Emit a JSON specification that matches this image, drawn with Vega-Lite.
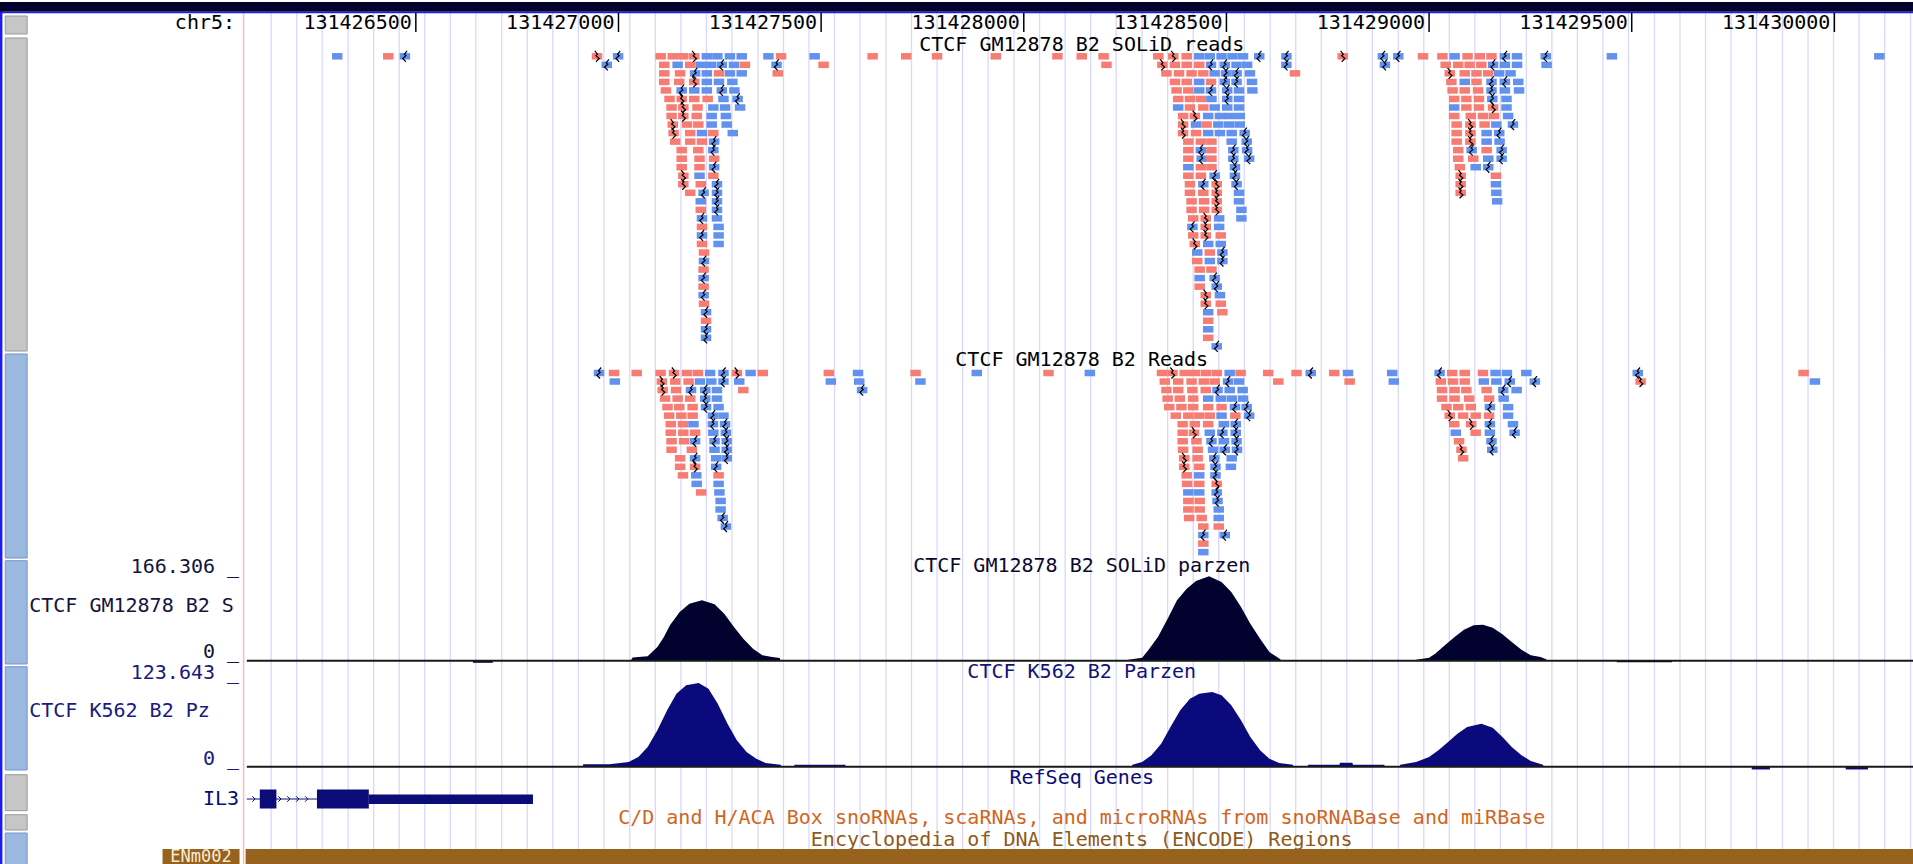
{
"$schema":"https://vega.github.io/schema/vega-lite/v6.json",
"padding":0,"spacing":0,"bounds":"flush","background":"white",
"config":{"view":{"stroke":null},"concat":{"spacing":0},"text":{"font":"DejaVu Sans Mono","fontSize":20}},
"datasets":{
"grid":[{"bp":131426143},{"bp":131426206},{"bp":131426269},{"bp":131426333},{"bp":131426396},{"bp":131426459},{"bp":131426522},{"bp":131426585},{"bp":131426648},{"bp":131426712},{"bp":131426775},{"bp":131426838},{"bp":131426901},{"bp":131426964},{"bp":131427028},{"bp":131427091},{"bp":131427154},{"bp":131427217},{"bp":131427280},{"bp":131427344},{"bp":131427407},{"bp":131427470},{"bp":131427533},{"bp":131427596},{"bp":131427660},{"bp":131427723},{"bp":131427786},{"bp":131427849},{"bp":131427912},{"bp":131427976},{"bp":131428039},{"bp":131428102},{"bp":131428165},{"bp":131428228},{"bp":131428292},{"bp":131428355},{"bp":131428418},{"bp":131428481},{"bp":131428544},{"bp":131428608},{"bp":131428671},{"bp":131428734},{"bp":131428797},{"bp":131428860},{"bp":131428924},{"bp":131428987},{"bp":131429050},{"bp":131429113},{"bp":131429176},{"bp":131429240},{"bp":131429303},{"bp":131429366},{"bp":131429429},{"bp":131429492},{"bp":131429556},{"bp":131429619},{"bp":131429682},{"bp":131429745},{"bp":131429808},{"bp":131429872},{"bp":131429935},{"bp":131429998},{"bp":131430061},{"bp":131430124},{"bp":131430188}],
"ticks":[{"bp":131426500},{"bp":131427000},{"bp":131427500},{"bp":131428000},{"bp":131428500},{"bp":131429000},{"bp":131429500},{"bp":131430000}],
"solid":[
{"bp":131426306,"row":0,"str":"-"},{"bp":131426432,"row":0,"str":"+"},{"bp":131426473,"row":0,"str":"-","zig":1},{"bp":131426947,"row":0,"str":"+","zig":1},{"bp":131426971,"row":1,"str":"-","zig":1},{"bp":131426999,"row":0,"str":"-","zig":1},
{"bp":131427104,"row":0,"str":"+"},{"bp":131427134,"row":0,"str":"+"},{"bp":131427160,"row":0,"str":"+"},{"bp":131427187,"row":0,"str":"+","zig":1},{"bp":131427218,"row":0,"str":"-"},{"bp":131427244,"row":0,"str":"-"},{"bp":131427275,"row":0,"str":"-"},{"bp":131427304,"row":0,"str":"-"},
{"bp":131427113,"row":1,"str":"+"},{"bp":131427146,"row":1,"str":"-"},{"bp":131427177,"row":1,"str":"+"},{"bp":131427203,"row":1,"str":"-"},{"bp":131427228,"row":1,"str":"-"},{"bp":131427255,"row":1,"str":"-","zig":1},{"bp":131427285,"row":1,"str":"-"},{"bp":131427312,"row":1,"str":"+"},
{"bp":131427113,"row":2,"str":"+"},{"bp":131427152,"row":2,"str":"+"},{"bp":131427189,"row":2,"str":"-","zig":1},{"bp":131427218,"row":2,"str":"-"},{"bp":131427248,"row":2,"str":"+"},{"bp":131427275,"row":2,"str":"-"},{"bp":131427304,"row":2,"str":"-"},
{"bp":131427113,"row":3,"str":"+"},{"bp":131427150,"row":3,"str":"+"},{"bp":131427187,"row":3,"str":"+","zig":1},{"bp":131427218,"row":3,"str":"-"},{"bp":131427248,"row":3,"str":"-"},{"bp":131427281,"row":3,"str":"-"},
{"bp":131427117,"row":4,"str":"+"},{"bp":131427156,"row":4,"str":"-","zig":1},{"bp":131427187,"row":4,"str":"-"},{"bp":131427218,"row":4,"str":"-"},{"bp":131427255,"row":4,"str":"-","zig":1},{"bp":131427286,"row":4,"str":"-"},
{"bp":131427126,"row":5,"str":"+"},{"bp":131427156,"row":5,"str":"+","zig":1},{"bp":131427187,"row":5,"str":"+"},{"bp":131427220,"row":5,"str":"+"},{"bp":131427259,"row":5,"str":"-"},{"bp":131427294,"row":5,"str":"-","zig":1},
{"bp":131427131,"row":6,"str":"+"},{"bp":131427160,"row":6,"str":"+","zig":1},{"bp":131427195,"row":6,"str":"+"},{"bp":131427234,"row":6,"str":"-"},{"bp":131427263,"row":6,"str":"-"},{"bp":131427300,"row":6,"str":"-"},
{"bp":131427131,"row":7,"str":"+"},{"bp":131427160,"row":7,"str":"+","zig":1},{"bp":131427193,"row":7,"str":"+"},{"bp":131427230,"row":7,"str":"-"},{"bp":131427265,"row":7,"str":"-"},
{"bp":131427134,"row":8,"str":"+","zig":1},{"bp":131427169,"row":8,"str":"+"},{"bp":131427197,"row":8,"str":"+"},{"bp":131427230,"row":8,"str":"-"},{"bp":131427267,"row":8,"str":"-"},
{"bp":131427136,"row":9,"str":"+","zig":1},{"bp":131427177,"row":9,"str":"+"},{"bp":131427206,"row":9,"str":"-"},{"bp":131427234,"row":9,"str":"+"},{"bp":131427282,"row":9,"str":"-"},
{"bp":131427140,"row":10,"str":"+"},{"bp":131427177,"row":10,"str":"+"},{"bp":131427206,"row":10,"str":"+"},{"bp":131427236,"row":10,"str":"-","zig":1},
{"bp":131427156,"row":11,"str":"+"},{"bp":131427197,"row":11,"str":"+"},{"bp":131427234,"row":11,"str":"-","zig":1},
{"bp":131427156,"row":12,"str":"+"},{"bp":131427200,"row":12,"str":"+"},{"bp":131427236,"row":12,"str":"+"},
{"bp":131427156,"row":13,"str":"+"},{"bp":131427200,"row":13,"str":"+"},{"bp":131427236,"row":13,"str":"-","zig":1},
{"bp":131427160,"row":14,"str":"+","zig":1},{"bp":131427200,"row":14,"str":"-"},{"bp":131427234,"row":14,"str":"+"},
{"bp":131427160,"row":15,"str":"+","zig":1},{"bp":131427203,"row":15,"str":"+"},{"bp":131427243,"row":15,"str":"-","zig":1},
{"bp":131427177,"row":16,"str":"+"},{"bp":131427210,"row":16,"str":"-","zig":1},{"bp":131427243,"row":16,"str":"-","zig":1},
{"bp":131427203,"row":17,"str":"-"},{"bp":131427243,"row":17,"str":"-","zig":1},
{"bp":131427203,"row":18,"str":"+"},{"bp":131427243,"row":18,"str":"-","zig":1},
{"bp":131427206,"row":19,"str":"-","zig":1},{"bp":131427243,"row":19,"str":"-"},
{"bp":131427206,"row":20,"str":"+"},{"bp":131427247,"row":20,"str":"-"},
{"bp":131427206,"row":21,"str":"-","zig":1},{"bp":131427247,"row":21,"str":"-"},
{"bp":131427206,"row":22,"str":"+"},{"bp":131427247,"row":22,"str":"-"},
{"bp":131427211,"row":23,"str":"+"},{"bp":131427211,"row":24,"str":"-","zig":1},{"bp":131427210,"row":25,"str":"+"},{"bp":131427210,"row":26,"str":"-","zig":1},{"bp":131427210,"row":27,"str":"+"},{"bp":131427210,"row":28,"str":"-","zig":1},{"bp":131427211,"row":29,"str":"+"},{"bp":131427216,"row":30,"str":"-","zig":1},{"bp":131427216,"row":31,"str":"+"},{"bp":131427216,"row":32,"str":"-","zig":1},{"bp":131427216,"row":33,"str":"-","zig":1},
{"bp":131427370,"row":0,"str":"-"},{"bp":131427390,"row":1,"str":"-","zig":1},{"bp":131427393,"row":2,"str":"+"},{"bp":131427401,"row":0,"str":"+"},{"bp":131427484,"row":0,"str":"-"},{"bp":131427506,"row":1,"str":"+"},{"bp":131427627,"row":0,"str":"+"},{"bp":131427710,"row":0,"str":"+"},{"bp":131427786,"row":0,"str":"+"},{"bp":131427931,"row":0,"str":"+"},{"bp":131428083,"row":0,"str":"+"},{"bp":131428143,"row":0,"str":"+"},{"bp":131428197,"row":0,"str":"+"},{"bp":131428204,"row":1,"str":"+"},
{"bp":131428332,"row":0,"str":"+"},{"bp":131428369,"row":0,"str":"+","zig":1},{"bp":131428402,"row":0,"str":"+"},{"bp":131428433,"row":0,"str":"-"},{"bp":131428459,"row":0,"str":"-"},{"bp":131428488,"row":0,"str":"-"},{"bp":131428515,"row":0,"str":"-"},{"bp":131428541,"row":0,"str":"-"},{"bp":131428581,"row":0,"str":"-","zig":1},
{"bp":131428342,"row":1,"str":"+","zig":1},{"bp":131428373,"row":1,"str":"+"},{"bp":131428402,"row":1,"str":"+"},{"bp":131428433,"row":1,"str":"+"},{"bp":131428462,"row":1,"str":"-","zig":1},{"bp":131428496,"row":1,"str":"-","zig":1},{"bp":131428525,"row":1,"str":"-"},{"bp":131428551,"row":1,"str":"-"},
{"bp":131428352,"row":2,"str":"+"},{"bp":131428383,"row":2,"str":"+"},{"bp":131428414,"row":2,"str":"+"},{"bp":131428443,"row":2,"str":"+"},{"bp":131428471,"row":2,"str":"-"},{"bp":131428499,"row":2,"str":"-","zig":1},{"bp":131428525,"row":2,"str":"-","zig":1},{"bp":131428558,"row":2,"str":"-"},
{"bp":131428373,"row":3,"str":"+"},{"bp":131428402,"row":3,"str":"+"},{"bp":131428433,"row":3,"str":"-"},{"bp":131428462,"row":3,"str":"+"},{"bp":131428496,"row":3,"str":"-","zig":1},{"bp":131428525,"row":3,"str":"-","zig":1},{"bp":131428563,"row":3,"str":"-"},
{"bp":131428377,"row":4,"str":"+"},{"bp":131428406,"row":4,"str":"+"},{"bp":131428433,"row":4,"str":"-"},{"bp":131428462,"row":4,"str":"-","zig":1},{"bp":131428502,"row":4,"str":"-","zig":1},{"bp":131428531,"row":4,"str":"-"},{"bp":131428564,"row":4,"str":"-"},
{"bp":131428381,"row":5,"str":"+"},{"bp":131428410,"row":5,"str":"+"},{"bp":131428437,"row":5,"str":"+"},{"bp":131428463,"row":5,"str":"-"},{"bp":131428502,"row":5,"str":"-","zig":1},{"bp":131428531,"row":5,"str":"-"},
{"bp":131428381,"row":6,"str":"-"},{"bp":131428410,"row":6,"str":"+"},{"bp":131428443,"row":6,"str":"+"},{"bp":131428471,"row":6,"str":"-"},{"bp":131428502,"row":6,"str":"-"},{"bp":131428531,"row":6,"str":"-"},
{"bp":131428393,"row":7,"str":"+"},{"bp":131428422,"row":7,"str":"+","zig":1},{"bp":131428455,"row":7,"str":"-"},{"bp":131428484,"row":7,"str":"-"},{"bp":131428508,"row":7,"str":"-"},{"bp":131428533,"row":7,"str":"-"},
{"bp":131428393,"row":8,"str":"+","zig":1},{"bp":131428425,"row":8,"str":"-"},{"bp":131428451,"row":8,"str":"+"},{"bp":131428480,"row":8,"str":"-"},{"bp":131428507,"row":8,"str":"-"},{"bp":131428533,"row":8,"str":"-"},
{"bp":131428393,"row":9,"str":"+","zig":1},{"bp":131428425,"row":9,"str":"+"},{"bp":131428455,"row":9,"str":"-"},{"bp":131428484,"row":9,"str":"-"},{"bp":131428513,"row":9,"str":"-"},{"bp":131428545,"row":9,"str":"-","zig":1},
{"bp":131428406,"row":10,"str":"+"},{"bp":131428437,"row":10,"str":"+"},{"bp":131428463,"row":10,"str":"+"},{"bp":131428513,"row":10,"str":"-"},{"bp":131428550,"row":10,"str":"-","zig":1},
{"bp":131428406,"row":11,"str":"+"},{"bp":131428437,"row":11,"str":"-","zig":1},{"bp":131428463,"row":11,"str":"+"},{"bp":131428517,"row":11,"str":"-","zig":1},{"bp":131428551,"row":11,"str":"-","zig":1},
{"bp":131428406,"row":12,"str":"+"},{"bp":131428439,"row":12,"str":"-","zig":1},{"bp":131428463,"row":12,"str":"+"},{"bp":131428517,"row":12,"str":"-","zig":1},{"bp":131428556,"row":12,"str":"-","zig":1},
{"bp":131428406,"row":13,"str":"-"},{"bp":131428437,"row":13,"str":"+"},{"bp":131428463,"row":13,"str":"+"},{"bp":131428521,"row":13,"str":"-","zig":1},
{"bp":131428406,"row":14,"str":"+"},{"bp":131428437,"row":14,"str":"+"},{"bp":131428471,"row":14,"str":"-","zig":1},{"bp":131428521,"row":14,"str":"-","zig":1},
{"bp":131428410,"row":15,"str":"+"},{"bp":131428443,"row":15,"str":"-","zig":1},{"bp":131428476,"row":15,"str":"+","zig":1},{"bp":131428525,"row":15,"str":"-","zig":1},
{"bp":131428410,"row":16,"str":"+"},{"bp":131428443,"row":16,"str":"+"},{"bp":131428476,"row":16,"str":"+","zig":1},{"bp":131428531,"row":16,"str":"-"},
{"bp":131428414,"row":17,"str":"+"},{"bp":131428445,"row":17,"str":"+"},{"bp":131428476,"row":17,"str":"+","zig":1},{"bp":131428531,"row":17,"str":"-"},
{"bp":131428414,"row":18,"str":"+"},{"bp":131428445,"row":18,"str":"+"},{"bp":131428476,"row":18,"str":"+","zig":1},{"bp":131428537,"row":18,"str":"-"},
{"bp":131428418,"row":19,"str":"+"},{"bp":131428449,"row":19,"str":"+","zig":1},{"bp":131428482,"row":19,"str":"-"},{"bp":131428537,"row":19,"str":"-"},
{"bp":131428416,"row":20,"str":"-","zig":1},{"bp":131428449,"row":20,"str":"+","zig":1},{"bp":131428482,"row":20,"str":"-"},
{"bp":131428418,"row":21,"str":"+"},{"bp":131428449,"row":21,"str":"+","zig":1},{"bp":131428486,"row":21,"str":"+"},
{"bp":131428422,"row":22,"str":"+","zig":1},{"bp":131428455,"row":22,"str":"-"},{"bp":131428486,"row":22,"str":"-"},
{"bp":131428428,"row":23,"str":"-"},{"bp":131428459,"row":23,"str":"+"},{"bp":131428490,"row":23,"str":"-","zig":1},
{"bp":131428428,"row":24,"str":"+"},{"bp":131428459,"row":24,"str":"-"},{"bp":131428490,"row":24,"str":"-","zig":1},
{"bp":131428434,"row":25,"str":"+"},{"bp":131428463,"row":25,"str":"+"},
{"bp":131428434,"row":26,"str":"-"},{"bp":131428471,"row":26,"str":"-","zig":1},
{"bp":131428434,"row":27,"str":"+"},{"bp":131428476,"row":27,"str":"-","zig":1},
{"bp":131428449,"row":28,"str":"+","zig":1},{"bp":131428484,"row":28,"str":"-"},
{"bp":131428449,"row":29,"str":"+","zig":1},{"bp":131428486,"row":29,"str":"+"},
{"bp":131428455,"row":30,"str":"-"},{"bp":131428490,"row":30,"str":"+"},
{"bp":131428455,"row":31,"str":"+"},{"bp":131428455,"row":32,"str":"-"},{"bp":131428455,"row":33,"str":"+"},{"bp":131428476,"row":34,"str":"-","zig":1},
{"bp":131428648,"row":0,"str":"-","zig":1},{"bp":131428648,"row":1,"str":"-","zig":1},{"bp":131428669,"row":2,"str":"+"},{"bp":131428787,"row":0,"str":"+","zig":1},{"bp":131428886,"row":0,"str":"-","zig":1},{"bp":131428891,"row":1,"str":"-","zig":1},{"bp":131428924,"row":0,"str":"-","zig":1},
{"bp":131428985,"row":0,"str":"+"},{"bp":131429033,"row":0,"str":"+"},{"bp":131429063,"row":0,"str":"-"},{"bp":131429095,"row":0,"str":"+"},{"bp":131429125,"row":0,"str":"+"},{"bp":131429154,"row":0,"str":"+"},{"bp":131429187,"row":0,"str":"-","zig":1},{"bp":131429217,"row":0,"str":"-"},{"bp":131429288,"row":0,"str":"-","zig":1},
{"bp":131429041,"row":1,"str":"+"},{"bp":131429072,"row":1,"str":"+"},{"bp":131429100,"row":1,"str":"+"},{"bp":131429129,"row":1,"str":"+"},{"bp":131429158,"row":1,"str":"-","zig":1},{"bp":131429187,"row":1,"str":"-"},{"bp":131429217,"row":1,"str":"-"},{"bp":131429290,"row":1,"str":"-"},
{"bp":131429051,"row":2,"str":"+","zig":1},{"bp":131429088,"row":2,"str":"+"},{"bp":131429117,"row":2,"str":"+"},{"bp":131429146,"row":2,"str":"+"},{"bp":131429173,"row":2,"str":"-"},{"bp":131429201,"row":2,"str":"-"},
{"bp":131429055,"row":3,"str":"+"},{"bp":131429088,"row":3,"str":"-"},{"bp":131429117,"row":3,"str":"+"},{"bp":131429154,"row":3,"str":"-","zig":1},{"bp":131429187,"row":3,"str":"-","zig":1},{"bp":131429220,"row":3,"str":"-"},
{"bp":131429058,"row":4,"str":"+"},{"bp":131429088,"row":4,"str":"+"},{"bp":131429121,"row":4,"str":"+"},{"bp":131429154,"row":4,"str":"-","zig":1},{"bp":131429187,"row":4,"str":"-"},{"bp":131429222,"row":4,"str":"-"},
{"bp":131429062,"row":5,"str":"+"},{"bp":131429092,"row":5,"str":"+"},{"bp":131429123,"row":5,"str":"+"},{"bp":131429156,"row":5,"str":"-","zig":1},{"bp":131429191,"row":5,"str":"-"},
{"bp":131429062,"row":6,"str":"-"},{"bp":131429092,"row":6,"str":"+"},{"bp":131429123,"row":6,"str":"+"},{"bp":131429158,"row":6,"str":"+","zig":1},{"bp":131429191,"row":6,"str":"-"},
{"bp":131429062,"row":7,"str":"+"},{"bp":131429103,"row":7,"str":"+"},{"bp":131429133,"row":7,"str":"+"},{"bp":131429160,"row":7,"str":"+"},{"bp":131429195,"row":7,"str":"-"},
{"bp":131429068,"row":8,"str":"+"},{"bp":131429102,"row":8,"str":"+","zig":1},{"bp":131429137,"row":8,"str":"+"},{"bp":131429166,"row":8,"str":"-"},{"bp":131429207,"row":8,"str":"-","zig":1},
{"bp":131429068,"row":9,"str":"+"},{"bp":131429102,"row":9,"str":"+","zig":1},{"bp":131429142,"row":9,"str":"-"},{"bp":131429173,"row":9,"str":"-","zig":1},
{"bp":131429068,"row":10,"str":"+"},{"bp":131429102,"row":10,"str":"+","zig":1},{"bp":131429142,"row":10,"str":"-"},{"bp":131429174,"row":10,"str":"-"},
{"bp":131429072,"row":11,"str":"+"},{"bp":131429105,"row":11,"str":"-","zig":1},{"bp":131429142,"row":11,"str":"+"},{"bp":131429179,"row":11,"str":"-","zig":1},
{"bp":131429072,"row":12,"str":"+"},{"bp":131429109,"row":12,"str":"+"},{"bp":131429146,"row":12,"str":"-"},{"bp":131429179,"row":12,"str":"-","zig":1},
{"bp":131429076,"row":13,"str":"+"},{"bp":131429115,"row":13,"str":"-"},{"bp":131429146,"row":13,"str":"-","zig":1},
{"bp":131429078,"row":14,"str":"+","zig":1},{"bp":131429165,"row":14,"str":"+"},
{"bp":131429078,"row":15,"str":"+","zig":1},{"bp":131429165,"row":15,"str":"-"},
{"bp":131429078,"row":16,"str":"+","zig":1},{"bp":131429166,"row":16,"str":"-"},
{"bp":131429168,"row":17,"str":"-"},
{"bp":131429451,"row":0,"str":"-"},{"bp":131430111,"row":0,"str":"-"}
],
"reads":[
{"bp":131426952,"row":0,"str":"-","zig":1},{"bp":131426989,"row":0,"str":"+"},{"bp":131426991,"row":1,"str":"-"},{"bp":131427045,"row":0,"str":"+"},
{"bp":131427104,"row":0,"str":"+"},{"bp":131427137,"row":0,"str":"+","zig":1},{"bp":131427169,"row":0,"str":"+"},{"bp":131427196,"row":0,"str":"+"},{"bp":131427226,"row":0,"str":"-"},{"bp":131427259,"row":0,"str":"-","zig":1},{"bp":131427292,"row":0,"str":"+","zig":1},{"bp":131427326,"row":0,"str":"-"},{"bp":131427356,"row":0,"str":"+"},
{"bp":131427107,"row":1,"str":"+","zig":1},{"bp":131427140,"row":1,"str":"+"},{"bp":131427173,"row":1,"str":"+"},{"bp":131427201,"row":1,"str":"-"},{"bp":131427229,"row":1,"str":"-"},{"bp":131427259,"row":1,"str":"-","zig":1},{"bp":131427298,"row":1,"str":"-"},
{"bp":131427109,"row":2,"str":"+","zig":1},{"bp":131427142,"row":2,"str":"+"},{"bp":131427179,"row":2,"str":"-","zig":1},{"bp":131427214,"row":2,"str":"-","zig":1},{"bp":131427243,"row":2,"str":"-"},{"bp":131427308,"row":2,"str":"+"},
{"bp":131427115,"row":3,"str":"+"},{"bp":131427146,"row":3,"str":"+"},{"bp":131427177,"row":3,"str":"+"},{"bp":131427214,"row":3,"str":"-","zig":1},{"bp":131427243,"row":3,"str":"-"},
{"bp":131427121,"row":4,"str":"+"},{"bp":131427150,"row":4,"str":"+"},{"bp":131427183,"row":4,"str":"+"},{"bp":131427216,"row":4,"str":"-","zig":1},{"bp":131427247,"row":4,"str":"-"},
{"bp":131427125,"row":5,"str":"+"},{"bp":131427155,"row":5,"str":"+"},{"bp":131427183,"row":5,"str":"+"},{"bp":131427233,"row":5,"str":"-","zig":1},{"bp":131427259,"row":5,"str":"-"},
{"bp":131427129,"row":6,"str":"+"},{"bp":131427159,"row":6,"str":"+"},{"bp":131427185,"row":6,"str":"-"},{"bp":131427233,"row":6,"str":"-","zig":1},{"bp":131427263,"row":6,"str":"-","zig":1},
{"bp":131427129,"row":7,"str":"+"},{"bp":131427160,"row":7,"str":"+"},{"bp":131427189,"row":7,"str":"+"},{"bp":131427234,"row":7,"str":"-"},{"bp":131427265,"row":7,"str":"-","zig":1},
{"bp":131427131,"row":8,"str":"+"},{"bp":131427162,"row":8,"str":"+"},{"bp":131427189,"row":8,"str":"-","zig":1},{"bp":131427237,"row":8,"str":"-","zig":1},{"bp":131427267,"row":8,"str":"-","zig":1},
{"bp":131427131,"row":9,"str":"+"},{"bp":131427181,"row":9,"str":"+"},{"bp":131427237,"row":9,"str":"-"},{"bp":131427267,"row":9,"str":"-","zig":1},
{"bp":131427152,"row":10,"str":"+"},{"bp":131427189,"row":10,"str":"-","zig":1},{"bp":131427241,"row":10,"str":"-"},{"bp":131427267,"row":10,"str":"-","zig":1},
{"bp":131427152,"row":11,"str":"+"},{"bp":131427189,"row":11,"str":"+","zig":1},{"bp":131427241,"row":11,"str":"-","zig":1},
{"bp":131427159,"row":12,"str":"+"},{"bp":131427192,"row":12,"str":"-"},{"bp":131427247,"row":12,"str":"+"},
{"bp":131427193,"row":13,"str":"-"},{"bp":131427247,"row":13,"str":"-"},
{"bp":131427204,"row":14,"str":"+"},{"bp":131427249,"row":14,"str":"-"},
{"bp":131427252,"row":15,"str":"-"},{"bp":131427252,"row":16,"str":"-"},{"bp":131427257,"row":17,"str":"-","zig":1},{"bp":131427265,"row":18,"str":"-","zig":1},
{"bp":131427519,"row":0,"str":"+"},{"bp":131427524,"row":1,"str":"-"},{"bp":131427591,"row":0,"str":"-"},{"bp":131427594,"row":1,"str":"-"},{"bp":131427601,"row":2,"str":"-","zig":1},{"bp":131427733,"row":0,"str":"+"},{"bp":131427745,"row":1,"str":"-"},{"bp":131427884,"row":0,"str":"-"},{"bp":131428061,"row":0,"str":"+"},{"bp":131428163,"row":0,"str":"-"},
{"bp":131428341,"row":0,"str":"+"},{"bp":131428367,"row":0,"str":"+","zig":1},{"bp":131428397,"row":0,"str":"+"},{"bp":131428422,"row":0,"str":"+"},{"bp":131428449,"row":0,"str":"+"},{"bp":131428476,"row":0,"str":"+"},{"bp":131428508,"row":0,"str":"-"},{"bp":131428535,"row":0,"str":"+"},{"bp":131428603,"row":0,"str":"+"},{"bp":131428673,"row":0,"str":"+"},{"bp":131428708,"row":0,"str":"-","zig":1},{"bp":131428766,"row":0,"str":"+"},{"bp":131428800,"row":0,"str":"-"},{"bp":131428909,"row":0,"str":"-"},
{"bp":131429026,"row":0,"str":"-","zig":1},{"bp":131429057,"row":0,"str":"+"},{"bp":131429088,"row":0,"str":"+"},{"bp":131429133,"row":0,"str":"+"},{"bp":131429164,"row":0,"str":"-"},{"bp":131429192,"row":0,"str":"-"},{"bp":131429240,"row":0,"str":"-"},
{"bp":131428348,"row":1,"str":"+"},{"bp":131428381,"row":1,"str":"+"},{"bp":131428414,"row":1,"str":"+"},{"bp":131428444,"row":1,"str":"+"},{"bp":131428471,"row":1,"str":"+"},{"bp":131428504,"row":1,"str":"-","zig":1},{"bp":131428531,"row":1,"str":"-"},{"bp":131428628,"row":1,"str":"+"},{"bp":131428804,"row":1,"str":"+"},{"bp":131428913,"row":1,"str":"-"},
{"bp":131429029,"row":1,"str":"+"},{"bp":131429059,"row":1,"str":"+"},{"bp":131429088,"row":1,"str":"+"},{"bp":131429135,"row":1,"str":"-"},{"bp":131429166,"row":1,"str":"-"},{"bp":131429199,"row":1,"str":"-","zig":1},{"bp":131429261,"row":1,"str":"-","zig":1},
{"bp":131428352,"row":2,"str":"+"},{"bp":131428381,"row":2,"str":"+"},{"bp":131428416,"row":2,"str":"+"},{"bp":131428449,"row":2,"str":"+"},{"bp":131428478,"row":2,"str":"-","zig":1},{"bp":131428508,"row":2,"str":"-"},{"bp":131428540,"row":2,"str":"-"},
{"bp":131429032,"row":2,"str":"+"},{"bp":131429063,"row":2,"str":"+"},{"bp":131429092,"row":2,"str":"+"},{"bp":131429142,"row":2,"str":"+"},{"bp":131429183,"row":2,"str":"-","zig":1},{"bp":131429216,"row":2,"str":"-"},
{"bp":131428355,"row":3,"str":"+"},{"bp":131428385,"row":3,"str":"+"},{"bp":131428418,"row":3,"str":"+"},{"bp":131428455,"row":3,"str":"-"},{"bp":131428486,"row":3,"str":"-"},{"bp":131428513,"row":3,"str":"-"},{"bp":131428541,"row":3,"str":"-"},
{"bp":131429032,"row":3,"str":"+"},{"bp":131429063,"row":3,"str":"+"},{"bp":131429099,"row":3,"str":"+"},{"bp":131429148,"row":3,"str":"+"},{"bp":131429184,"row":3,"str":"-"},
{"bp":131428359,"row":4,"str":"+"},{"bp":131428389,"row":4,"str":"+"},{"bp":131428418,"row":4,"str":"+"},{"bp":131428455,"row":4,"str":"+"},{"bp":131428488,"row":4,"str":"+"},{"bp":131428521,"row":4,"str":"-","zig":1},{"bp":131428550,"row":4,"str":"-","zig":1},
{"bp":131429043,"row":4,"str":"+"},{"bp":131429072,"row":4,"str":"+"},{"bp":131429103,"row":4,"str":"+"},{"bp":131429150,"row":4,"str":"-","zig":1},{"bp":131429195,"row":4,"str":"-"},
{"bp":131428375,"row":5,"str":"+"},{"bp":131428406,"row":5,"str":"+"},{"bp":131428433,"row":5,"str":"+"},{"bp":131428459,"row":5,"str":"+"},{"bp":131428488,"row":5,"str":"-"},{"bp":131428522,"row":5,"str":"+"},{"bp":131428556,"row":5,"str":"-","zig":1},
{"bp":131429051,"row":5,"str":"+","zig":1},{"bp":131429084,"row":5,"str":"+"},{"bp":131429115,"row":5,"str":"+"},{"bp":131429148,"row":5,"str":"+"},{"bp":131429195,"row":5,"str":"-"},
{"bp":131428392,"row":6,"str":"+"},{"bp":131428422,"row":6,"str":"+"},{"bp":131428455,"row":6,"str":"+"},{"bp":131428494,"row":6,"str":"-"},{"bp":131428523,"row":6,"str":"-","zig":1},
{"bp":131429062,"row":6,"str":"+"},{"bp":131429104,"row":6,"str":"+","zig":1},{"bp":131429150,"row":6,"str":"-","zig":1},{"bp":131429207,"row":6,"str":"-"},
{"bp":131428392,"row":7,"str":"+"},{"bp":131428420,"row":7,"str":"+","zig":1},{"bp":131428459,"row":7,"str":"-"},{"bp":131428490,"row":7,"str":"-","zig":1},{"bp":131428523,"row":7,"str":"-","zig":1},
{"bp":131429066,"row":7,"str":"-"},{"bp":131429115,"row":7,"str":"+"},{"bp":131429150,"row":7,"str":"-"},{"bp":131429211,"row":7,"str":"-","zig":1},
{"bp":131428392,"row":8,"str":"+"},{"bp":131428426,"row":8,"str":"+"},{"bp":131428463,"row":8,"str":"-","zig":1},{"bp":131428494,"row":8,"str":"-"},{"bp":131428525,"row":8,"str":"-","zig":1},
{"bp":131429074,"row":8,"str":"+"},{"bp":131429154,"row":8,"str":"-","zig":1},
{"bp":131428393,"row":9,"str":"+"},{"bp":131428429,"row":9,"str":"+"},{"bp":131428467,"row":9,"str":"-"},{"bp":131428496,"row":9,"str":"-","zig":1},{"bp":131428526,"row":9,"str":"-","zig":1},
{"bp":131429080,"row":9,"str":"+","zig":1},{"bp":131429156,"row":9,"str":"-","zig":1},
{"bp":131428396,"row":10,"str":"+","zig":1},{"bp":131428429,"row":10,"str":"+"},{"bp":131428470,"row":10,"str":"-","zig":1},{"bp":131428513,"row":10,"str":"-"},{"bp":131429084,"row":10,"str":"+"},
{"bp":131428396,"row":11,"str":"+","zig":1},{"bp":131428433,"row":11,"str":"+"},{"bp":131428473,"row":11,"str":"-","zig":1},{"bp":131428511,"row":11,"str":"-"},
{"bp":131428402,"row":12,"str":"+"},{"bp":131428433,"row":12,"str":"-"},{"bp":131428473,"row":12,"str":"-","zig":1},
{"bp":131428403,"row":13,"str":"+"},{"bp":131428433,"row":13,"str":"+"},{"bp":131428476,"row":13,"str":"+","zig":1},
{"bp":131428406,"row":14,"str":"-"},{"bp":131428433,"row":14,"str":"-"},{"bp":131428476,"row":14,"str":"-","zig":1},
{"bp":131428406,"row":15,"str":"+"},{"bp":131428434,"row":15,"str":"+"},{"bp":131428478,"row":15,"str":"-","zig":1},
{"bp":131428406,"row":16,"str":"+"},{"bp":131428434,"row":16,"str":"+"},{"bp":131428481,"row":16,"str":"-"},
{"bp":131428408,"row":17,"str":"+"},{"bp":131428439,"row":17,"str":"+"},{"bp":131428481,"row":17,"str":"-"},
{"bp":131428443,"row":18,"str":"+"},{"bp":131428481,"row":18,"str":"+"},
{"bp":131428443,"row":19,"str":"-","zig":1},{"bp":131428496,"row":19,"str":"-","zig":1},
{"bp":131428443,"row":20,"str":"+"},{"bp":131428443,"row":21,"str":"-"},
{"bp":131429515,"row":0,"str":"-","zig":1},{"bp":131429522,"row":1,"str":"+","zig":1},{"bp":131429924,"row":0,"str":"+"},{"bp":131429952,"row":1,"str":"-"}
],
"gm":[
{"bp":131427030,"v":0,"pk":1},{"bp":131427035,"v":6,"pk":1},{"bp":131427072,"v":8.5,"pk":1},{"bp":131427096,"v":26.4,"pk":1},{"bp":131427112,"v":45.7,"pk":1},{"bp":131427127,"v":68.3,"pk":1},{"bp":131427151,"v":94,"pk":1},{"bp":131427175,"v":110,"pk":1},{"bp":131427206,"v":116.5,"pk":1},{"bp":131427237,"v":108.8,"pk":1},{"bp":131427261,"v":90.7,"pk":1},{"bp":131427285,"v":65,"pk":1},{"bp":131427308,"v":42.4,"pk":1},{"bp":131427332,"v":23.2,"pk":1},{"bp":131427355,"v":10.4,"pk":1},{"bp":131427379,"v":7.1,"pk":1},{"bp":131427398,"v":5,"pk":1},{"bp":131427400,"v":0,"pk":1},
{"bp":131428255,"v":0,"pk":2},{"bp":131428258,"v":2,"pk":2},{"bp":131428292,"v":5.8,"pk":2},{"bp":131428307,"v":20,"pk":2},{"bp":131428331,"v":45.7,"pk":2},{"bp":131428355,"v":81,"pk":2},{"bp":131428378,"v":116.5,"pk":2},{"bp":131428402,"v":138.9,"pk":2},{"bp":131428425,"v":153.8,"pk":2},{"bp":131428457,"v":163,"pk":2},{"bp":131428488,"v":151.8,"pk":2},{"bp":131428512,"v":132.5,"pk":2},{"bp":131428536,"v":103.6,"pk":2},{"bp":131428559,"v":71.4,"pk":2},{"bp":131428583,"v":42.4,"pk":2},{"bp":131428606,"v":16.8,"pk":2},{"bp":131428622,"v":8.5,"pk":2},{"bp":131428633,"v":3,"pk":2},{"bp":131428635,"v":0,"pk":2},
{"bp":131428966,"v":0,"pk":3},{"bp":131428968,"v":2,"pk":3},{"bp":131429000,"v":5.8,"pk":3},{"bp":131429015,"v":13.5,"pk":3},{"bp":131429039,"v":29.7,"pk":3},{"bp":131429063,"v":45.7,"pk":3},{"bp":131429086,"v":59.8,"pk":3},{"bp":131429110,"v":68.3,"pk":3},{"bp":131429133,"v":69.5,"pk":3},{"bp":131429157,"v":63.7,"pk":3},{"bp":131429181,"v":50.9,"pk":3},{"bp":131429204,"v":36.1,"pk":3},{"bp":131429228,"v":21.2,"pk":3},{"bp":131429251,"v":10.4,"pk":3},{"bp":131429275,"v":7.1,"pk":3},{"bp":131429289,"v":3,"pk":3},{"bp":131429291,"v":0,"pk":3},
{"bp":131426641,"v":-4,"pk":4},{"bp":131426690,"v":-4,"pk":4},
{"bp":131429463,"v":-3,"pk":5},{"bp":131429599,"v":-3,"pk":5}
],
"k562":[
{"bp":131426912,"v":0,"pk":1},{"bp":131426913,"v":3.5,"pk":1},{"bp":131426978,"v":3.5,"pk":1},{"bp":131427025,"v":6.8,"pk":1},{"bp":131427049,"v":14.1,"pk":1},{"bp":131427072,"v":28.6,"pk":1},{"bp":131427096,"v":52.8,"pk":1},{"bp":131427120,"v":81.8,"pk":1},{"bp":131427143,"v":105.9,"pk":1},{"bp":131427167,"v":118.1,"pk":1},{"bp":131427198,"v":121.5,"pk":1},{"bp":131427222,"v":113.2,"pk":1},{"bp":131427245,"v":91.4,"pk":1},{"bp":131427269,"v":62.4,"pk":1},{"bp":131427292,"v":38.3,"pk":1},{"bp":131427316,"v":21.3,"pk":1},{"bp":131427340,"v":11.6,"pk":1},{"bp":131427363,"v":5.4,"pk":1},{"bp":131427400,"v":2.9,"pk":1},{"bp":131427403,"v":0,"pk":1},
{"bp":131427434,"v":2.9,"pk":2},{"bp":131427560,"v":2.9,"pk":2},
{"bp":131428266,"v":0,"pk":3},{"bp":131428268,"v":2.9,"pk":3},{"bp":131428292,"v":6.8,"pk":3},{"bp":131428315,"v":16.5,"pk":3},{"bp":131428339,"v":33.4,"pk":3},{"bp":131428362,"v":57.6,"pk":3},{"bp":131428386,"v":81.8,"pk":3},{"bp":131428410,"v":98.7,"pk":3},{"bp":131428433,"v":105.9,"pk":3},{"bp":131428465,"v":108.4,"pk":3},{"bp":131428488,"v":103.6,"pk":3},{"bp":131428512,"v":89.1,"pk":3},{"bp":131428536,"v":67.3,"pk":3},{"bp":131428559,"v":43.1,"pk":3},{"bp":131428583,"v":23.8,"pk":3},{"bp":131428606,"v":11.6,"pk":3},{"bp":131428630,"v":5.4,"pk":3},{"bp":131428664,"v":2.9,"pk":3},{"bp":131428666,"v":0,"pk":3},
{"bp":131428701,"v":2.9,"pk":4},{"bp":131428779,"v":2.9,"pk":4},{"bp":131428780,"v":5.8,"pk":4},{"bp":131428811,"v":5.8,"pk":4},{"bp":131428812,"v":2.9,"pk":4},{"bp":131428890,"v":2.9,"pk":4},
{"bp":131428927,"v":0,"pk":5},{"bp":131428929,"v":2.9,"pk":5},{"bp":131428968,"v":6.8,"pk":5},{"bp":131429000,"v":14.1,"pk":5},{"bp":131429023,"v":23.8,"pk":5},{"bp":131429047,"v":35.8,"pk":5},{"bp":131429070,"v":47.9,"pk":5},{"bp":131429094,"v":57.6,"pk":5},{"bp":131429129,"v":62.4,"pk":5},{"bp":131429157,"v":56.6,"pk":5},{"bp":131429181,"v":43.1,"pk":5},{"bp":131429204,"v":28.6,"pk":5},{"bp":131429228,"v":16.5,"pk":5},{"bp":131429251,"v":8.3,"pk":5},{"bp":131429281,"v":2.9,"pk":5},{"bp":131429283,"v":0,"pk":5},
{"bp":131429796,"v":-4,"pk":6},{"bp":131429841,"v":-4,"pk":6},
{"bp":131430028,"v":-4,"pk":7},{"bp":131430083,"v":-4,"pk":7}
],
"gene":[{"start":131426083,"end":131426256,"part":"line"},{"start":131426115,"end":131426156,"part":"cds"},{"start":131426256,"end":131426384,"part":"cds"},{"start":131426384,"end":131426789,"part":"utr"}],
"arrows":[{"bp":131426100},{"bp":131426164},{"bp":131426186},{"bp":131426208},{"bp":131426230}],
"encode":[{"name":"ENm002","start":131426080,"end":131430194}]
},
"vconcat":[
{"width":1913,"height":34,"layer":[
 {"data":{"name":"grid"},"mark":{"type":"rule","color":"#d8d8fc","strokeWidth":1.3},"encoding":{"x":{"field":"bp","type":"quantitative","scale":{"domain":[131425474,131430194],"nice":false,"zero":false},"axis":null}}},
 {"data":{"values":[{}]},"mark":{"type":"rule","color":"#ffb8b8","strokeWidth":1.5},"encoding":{"x":{"datum":131426075,"type":"quantitative","scale":{"domain":[131425474,131430194],"nice":false,"zero":false},"axis":null}}},
 {"data":{"values":[{}]},"mark":{"type":"rule","color":"#1c1cf0","strokeWidth":2.4},"encoding":{"x":{"datum":131425477,"type":"quantitative","scale":{"domain":[131425474,131430194],"nice":false,"zero":false},"axis":null}}},
 {"data":{"values":[{}]},"mark":{"type":"rect","color":"#03032c"},"encoding":{"x":{"datum":131425474,"type":"quantitative","scale":{"domain":[131425474,131430194],"nice":false,"zero":false},"axis":null},"x2":{"datum":131430194},"y":{"datum":0,"type":"quantitative","scale":{"domain":[0,34],"reverse":true,"nice":false,"zero":false},"axis":null},"y2":{"datum":9.8}}},
 {"data":{"values":[{}]},"mark":{"type":"rect","color":"#1c1cf0"},"encoding":{"x":{"datum":131425474,"type":"quantitative","scale":{"domain":[131425474,131430194],"nice":false,"zero":false},"axis":null},"x2":{"datum":131430194},"y":{"datum":9.8,"type":"quantitative","scale":{"domain":[0,34],"reverse":true,"nice":false,"zero":false},"axis":null},"y2":{"datum":11.3}}},
 {"data":{"values":[{}]},"mark":{"type":"rect","fill":"#c6c6c6","stroke":"#9a9a9a","strokeWidth":1},"encoding":{"x":{"datum":131425487,"type":"quantitative","scale":{"domain":[131425474,131430194],"nice":false,"zero":false},"axis":null},"x2":{"datum":131425541},"y":{"datum":14,"type":"quantitative","scale":{"domain":[0,34],"reverse":true,"nice":false,"zero":false},"axis":null},"y2":{"datum":32}}},
 {"data":{"name":"ticks"},"mark":{"type":"rule","color":"black","strokeWidth":1.5},"encoding":{"x":{"field":"bp","type":"quantitative","scale":{"domain":[131425474,131430194],"nice":false,"zero":false},"axis":null},"y":{"datum":11,"type":"quantitative","scale":{"domain":[0,34],"reverse":true,"nice":false,"zero":false},"axis":null},"y2":{"datum":30}}},
 {"data":{"name":"ticks"},"mark":{"type":"text","color":"black","align":"right","baseline":"middle","dx":-4},"encoding":{"x":{"field":"bp","type":"quantitative","scale":{"domain":[131425474,131430194],"nice":false,"zero":false},"axis":null},"y":{"datum":21,"type":"quantitative","scale":{"domain":[0,34],"reverse":true,"nice":false,"zero":false},"axis":null},"text":{"field":"bp","type":"quantitative","format":"d"}}},
 {"data":{"values":[{}]},"mark":{"type":"text","color":"black","align":"right","baseline":"middle"},"encoding":{"x":{"datum":131426054,"type":"quantitative","scale":{"domain":[131425474,131430194],"nice":false,"zero":false},"axis":null},"y":{"datum":21,"type":"quantitative","scale":{"domain":[0,34],"reverse":true,"nice":false,"zero":false},"axis":null},"text":{"value":"chr5:"}}}
]},
{"width":1913,"height":317,"layer":[
 {"data":{"name":"grid"},"mark":{"type":"rule","color":"#d8d8fc","strokeWidth":1.3},"encoding":{"x":{"field":"bp","type":"quantitative","scale":{"domain":[131425474,131430194],"nice":false,"zero":false},"axis":null}}},
 {"data":{"values":[{}]},"mark":{"type":"rule","color":"#ffb8b8","strokeWidth":1.5},"encoding":{"x":{"datum":131426075,"type":"quantitative","scale":{"domain":[131425474,131430194],"nice":false,"zero":false},"axis":null}}},
 {"data":{"values":[{}]},"mark":{"type":"rule","color":"#1c1cf0","strokeWidth":2.4},"encoding":{"x":{"datum":131425477,"type":"quantitative","scale":{"domain":[131425474,131430194],"nice":false,"zero":false},"axis":null}}},
 {"data":{"values":[{}]},"mark":{"type":"rect","fill":"#c6c6c6","stroke":"#9a9a9a","strokeWidth":1},"encoding":{"x":{"datum":131425487,"type":"quantitative","scale":{"domain":[131425474,131430194],"nice":false,"zero":false},"axis":null},"x2":{"datum":131425541},"y":{"datum":-2.15,"type":"quantitative","scale":{"domain":[-2.38,34.78],"reverse":true,"nice":false,"zero":false},"axis":null},"y2":{"datum":34.55}}},
 {"data":{"values":[{}]},"mark":{"type":"text","color":"#000000","align":"center","baseline":"middle"},"encoding":{"x":{"datum":131428143,"type":"quantitative","scale":{"domain":[131425474,131430194],"nice":false,"zero":false},"axis":null},"y":{"datum":-1.36,"type":"quantitative","scale":{"domain":[-2.38,34.78],"reverse":true,"nice":false,"zero":false},"axis":null},"text":{"value":"CTCF GM12878 B2 SOLiD reads"}}},
 {"data":{"name":"solid"},"mark":{"type":"point","shape":"M-1,-0.62H1V0.62H-1Z","filled":true,"size":110,"opacity":1,"strokeWidth":0},"encoding":{"x":{"field":"bp","type":"quantitative","scale":{"domain":[131425474,131430194],"nice":false,"zero":false},"axis":null},"y":{"field":"row","type":"quantitative","scale":{"domain":[-2.38,34.78],"reverse":true,"nice":false,"zero":false},"axis":null},"color":{"field":"str","type":"nominal","scale":{"domain":["+","-"],"range":["#f67c74","#6292ee"]},"legend":null}}},
 {"data":{"name":"solid"},"transform":[{"filter":"datum.zig == 1"}],"mark":{"type":"point","filled":false,"stroke":"#000000","strokeWidth":1.2,"size":121,"opacity":1},"encoding":{"x":{"field":"bp","type":"quantitative","scale":{"domain":[131425474,131430194],"nice":false,"zero":false},"axis":null},"y":{"field":"row","type":"quantitative","scale":{"domain":[-2.38,34.78],"reverse":true,"nice":false,"zero":false},"axis":null},"shape":{"field":"str","type":"nominal","scale":{"domain":["+","-"],"range":["M-0.4,-1L0.1,-0.4L-0.2,-0.1L0.4,0.4L-0.2,1","M0.4,-1L-0.1,-0.4L0.2,-0.1L-0.4,0.4L0.2,1"]},"legend":null}}}
]},
{"width":1913,"height":206,"layer":[
 {"data":{"name":"grid"},"mark":{"type":"rule","color":"#d8d8fc","strokeWidth":1.3},"encoding":{"x":{"field":"bp","type":"quantitative","scale":{"domain":[131425474,131430194],"nice":false,"zero":false},"axis":null}}},
 {"data":{"values":[{}]},"mark":{"type":"rule","color":"#ffb8b8","strokeWidth":1.5},"encoding":{"x":{"datum":131426075,"type":"quantitative","scale":{"domain":[131425474,131430194],"nice":false,"zero":false},"axis":null}}},
 {"data":{"values":[{}]},"mark":{"type":"rule","color":"#1c1cf0","strokeWidth":2.4},"encoding":{"x":{"datum":131425477,"type":"quantitative","scale":{"domain":[131425474,131430194],"nice":false,"zero":false},"axis":null}}},
 {"data":{"values":[{}]},"mark":{"type":"rect","fill":"#9bb8e0","stroke":"#7595c4","strokeWidth":1},"encoding":{"x":{"datum":131425487,"type":"quantitative","scale":{"domain":[131425474,131430194],"nice":false,"zero":false},"axis":null},"x2":{"datum":131425541},"y":{"datum":-2.23,"type":"quantitative","scale":{"domain":[-2.345,21.805],"reverse":true,"nice":false,"zero":false},"axis":null},"y2":{"datum":21.69}}},
 {"data":{"values":[{}]},"mark":{"type":"text","color":"#000000","align":"center","baseline":"middle"},"encoding":{"x":{"datum":131428143,"type":"quantitative","scale":{"domain":[131425474,131430194],"nice":false,"zero":false},"axis":null},"y":{"datum":-1.57,"type":"quantitative","scale":{"domain":[-2.345,21.805],"reverse":true,"nice":false,"zero":false},"axis":null},"text":{"value":"CTCF GM12878 B2 Reads"}}},
 {"data":{"name":"reads"},"mark":{"type":"point","shape":"M-1,-0.62H1V0.62H-1Z","filled":true,"size":110,"opacity":1,"strokeWidth":0},"encoding":{"x":{"field":"bp","type":"quantitative","scale":{"domain":[131425474,131430194],"nice":false,"zero":false},"axis":null},"y":{"field":"row","type":"quantitative","scale":{"domain":[-2.345,21.805],"reverse":true,"nice":false,"zero":false},"axis":null},"color":{"field":"str","type":"nominal","scale":{"domain":["+","-"],"range":["#f67c74","#6292ee"]},"legend":null}}},
 {"data":{"name":"reads"},"transform":[{"filter":"datum.zig == 1"}],"mark":{"type":"point","filled":false,"stroke":"#000000","strokeWidth":1.2,"size":121,"opacity":1},"encoding":{"x":{"field":"bp","type":"quantitative","scale":{"domain":[131425474,131430194],"nice":false,"zero":false},"axis":null},"y":{"field":"row","type":"quantitative","scale":{"domain":[-2.345,21.805],"reverse":true,"nice":false,"zero":false},"axis":null},"shape":{"field":"str","type":"nominal","scale":{"domain":["+","-"],"range":["M-0.4,-1L0.1,-0.4L-0.2,-0.1L0.4,0.4L-0.2,1","M0.4,-1L-0.1,-0.4L0.2,-0.1L-0.4,0.4L0.2,1"]},"legend":null}}}
]},
{"width":1913,"height":106,"layer":[
 {"data":{"name":"grid"},"mark":{"type":"rule","color":"#d8d8fc","strokeWidth":1.3},"encoding":{"x":{"field":"bp","type":"quantitative","scale":{"domain":[131425474,131430194],"nice":false,"zero":false},"axis":null}}},
 {"data":{"values":[{}]},"mark":{"type":"rule","color":"#ffb8b8","strokeWidth":1.5},"encoding":{"x":{"datum":131426075,"type":"quantitative","scale":{"domain":[131425474,131430194],"nice":false,"zero":false},"axis":null}}},
 {"data":{"values":[{}]},"mark":{"type":"rule","color":"#1c1cf0","strokeWidth":2.4},"encoding":{"x":{"datum":131425477,"type":"quantitative","scale":{"domain":[131425474,131430194],"nice":false,"zero":false},"axis":null}}},
 {"data":{"values":[{}]},"mark":{"type":"rect","fill":"#9bb8e0","stroke":"#7595c4","strokeWidth":1},"encoding":{"x":{"datum":131425487,"type":"quantitative","scale":{"domain":[131425474,131430194],"nice":false,"zero":false},"axis":null},"x2":{"datum":131425541},"y":{"datum":192.9,"type":"quantitative","scale":{"domain":[-8.3,196.2],"nice":false,"zero":false},"axis":null},"y2":{"datum":-6.37}}},
 {"data":{"name":"gm"},"mark":{"type":"area","color":"#02022e","interpolate":"linear"},"encoding":{"x":{"field":"bp","type":"quantitative","scale":{"domain":[131425474,131430194],"nice":false,"zero":false},"axis":null},"y":{"field":"v","type":"quantitative","scale":{"domain":[-8.3,196.2],"nice":false,"zero":false},"axis":null},"y2":{"datum":0},"detail":{"field":"pk","type":"nominal"}}},
 {"data":{"values":[{}]},"mark":{"type":"rule","color":"#1a1a1a","strokeWidth":2},"encoding":{"x":{"datum":131426083,"type":"quantitative","scale":{"domain":[131425474,131430194],"nice":false,"zero":false},"axis":null},"x2":{"datum":131430194},"y":{"datum":0,"type":"quantitative","scale":{"domain":[-8.3,196.2],"nice":false,"zero":false},"axis":null}}},
 {"data":{"values":[{}]},"mark":{"type":"text","color":"#0a0a2e","align":"center","baseline":"middle"},"encoding":{"x":{"datum":131428143,"type":"quantitative","scale":{"domain":[131425474,131430194],"nice":false,"zero":false},"axis":null},"y":{"datum":182.7,"type":"quantitative","scale":{"domain":[-8.3,196.2],"nice":false,"zero":false},"axis":null},"text":{"value":"CTCF GM12878 B2 SOLiD parzen"}}},
 {"data":{"values":[{}]},"mark":{"type":"text","color":"#14143c","align":"right","baseline":"middle"},"encoding":{"x":{"datum":131426064,"type":"quantitative","scale":{"domain":[131425474,131430194],"nice":false,"zero":false},"axis":null},"y":{"datum":180.8,"type":"quantitative","scale":{"domain":[-8.3,196.2],"nice":false,"zero":false},"axis":null},"text":{"value":"166.306 _"}}},
 {"data":{"values":[{}]},"mark":{"type":"text","color":"#14143c","align":"left","baseline":"middle"},"encoding":{"x":{"datum":131425546,"type":"quantitative","scale":{"domain":[131425474,131430194],"nice":false,"zero":false},"axis":null},"y":{"datum":105.5,"type":"quantitative","scale":{"domain":[-8.3,196.2],"nice":false,"zero":false},"axis":null},"text":{"value":"CTCF GM12878 B2 S"}}},
 {"data":{"values":[{}]},"mark":{"type":"text","color":"#14143c","align":"right","baseline":"middle"},"encoding":{"x":{"datum":131426064,"type":"quantitative","scale":{"domain":[131425474,131430194],"nice":false,"zero":false},"axis":null},"y":{"datum":16.8,"type":"quantitative","scale":{"domain":[-8.3,196.2],"nice":false,"zero":false},"axis":null},"text":{"value":"0 _"}}}
]},
{"width":1913,"height":107,"layer":[
 {"data":{"name":"grid"},"mark":{"type":"rule","color":"#d8d8fc","strokeWidth":1.3},"encoding":{"x":{"field":"bp","type":"quantitative","scale":{"domain":[131425474,131430194],"nice":false,"zero":false},"axis":null}}},
 {"data":{"values":[{}]},"mark":{"type":"rule","color":"#ffb8b8","strokeWidth":1.5},"encoding":{"x":{"datum":131426075,"type":"quantitative","scale":{"domain":[131425474,131430194],"nice":false,"zero":false},"axis":null}}},
 {"data":{"values":[{}]},"mark":{"type":"rule","color":"#1c1cf0","strokeWidth":2.4},"encoding":{"x":{"datum":131425477,"type":"quantitative","scale":{"domain":[131425474,131430194],"nice":false,"zero":false},"axis":null}}},
 {"data":{"values":[{}]},"mark":{"type":"rect","fill":"#9bb8e0","stroke":"#7595c4","strokeWidth":1},"encoding":{"x":{"datum":131425487,"type":"quantitative","scale":{"domain":[131425474,131430194],"nice":false,"zero":false},"axis":null},"x2":{"datum":131425541},"y":{"datum":145.1,"type":"quantitative","scale":{"domain":[-7.69,147.6],"nice":false,"zero":false},"axis":null},"y2":{"datum":-4.79}}},
 {"data":{"name":"k562"},"mark":{"type":"area","color":"#0a0a7c","interpolate":"linear"},"encoding":{"x":{"field":"bp","type":"quantitative","scale":{"domain":[131425474,131430194],"nice":false,"zero":false},"axis":null},"y":{"field":"v","type":"quantitative","scale":{"domain":[-7.69,147.6],"nice":false,"zero":false},"axis":null},"y2":{"datum":0},"detail":{"field":"pk","type":"nominal"}}},
 {"data":{"values":[{}]},"mark":{"type":"rule","color":"#1a1a1a","strokeWidth":2},"encoding":{"x":{"datum":131426083,"type":"quantitative","scale":{"domain":[131425474,131430194],"nice":false,"zero":false},"axis":null},"x2":{"datum":131430194},"y":{"datum":0,"type":"quantitative","scale":{"domain":[-7.69,147.6],"nice":false,"zero":false},"axis":null}}},
 {"data":{"values":[{}]},"mark":{"type":"text","color":"#12127a","align":"center","baseline":"middle"},"encoding":{"x":{"datum":131428143,"type":"quantitative","scale":{"domain":[131425474,131430194],"nice":false,"zero":false},"axis":null},"y":{"datum":137.4,"type":"quantitative","scale":{"domain":[-7.69,147.6],"nice":false,"zero":false},"axis":null},"text":{"value":"CTCF K562 B2 Parzen"}}},
 {"data":{"values":[{}]},"mark":{"type":"text","color":"#1a1a80","align":"right","baseline":"middle"},"encoding":{"x":{"datum":131426064,"type":"quantitative","scale":{"domain":[131425474,131430194],"nice":false,"zero":false},"axis":null},"y":{"datum":136,"type":"quantitative","scale":{"domain":[-7.69,147.6],"nice":false,"zero":false},"axis":null},"text":{"value":"123.643 _"}}},
 {"data":{"values":[{}]},"mark":{"type":"text","color":"#1a1a80","align":"left","baseline":"middle"},"encoding":{"x":{"datum":131425546,"type":"quantitative","scale":{"domain":[131425474,131430194],"nice":false,"zero":false},"axis":null},"y":{"datum":81.3,"type":"quantitative","scale":{"domain":[-7.69,147.6],"nice":false,"zero":false},"axis":null},"text":{"value":"CTCF K562 B2 Pz"}}},
 {"data":{"values":[{}]},"mark":{"type":"text","color":"#1a1a80","align":"right","baseline":"middle"},"encoding":{"x":{"datum":131426064,"type":"quantitative","scale":{"domain":[131425474,131430194],"nice":false,"zero":false},"axis":null},"y":{"datum":11.2,"type":"quantitative","scale":{"domain":[-7.69,147.6],"nice":false,"zero":false},"axis":null},"text":{"value":"0 _"}}}
]},
{"width":1913,"height":40,"layer":[
 {"data":{"name":"grid"},"mark":{"type":"rule","color":"#d8d8fc","strokeWidth":1.3},"encoding":{"x":{"field":"bp","type":"quantitative","scale":{"domain":[131425474,131430194],"nice":false,"zero":false},"axis":null}}},
 {"data":{"values":[{}]},"mark":{"type":"rule","color":"#ffb8b8","strokeWidth":1.5},"encoding":{"x":{"datum":131426075,"type":"quantitative","scale":{"domain":[131425474,131430194],"nice":false,"zero":false},"axis":null}}},
 {"data":{"values":[{}]},"mark":{"type":"rule","color":"#1c1cf0","strokeWidth":2.4},"encoding":{"x":{"datum":131425477,"type":"quantitative","scale":{"domain":[131425474,131430194],"nice":false,"zero":false},"axis":null}}},
 {"data":{"values":[{}]},"mark":{"type":"rect","fill":"#c6c6c6","stroke":"#9a9a9a","strokeWidth":1},"encoding":{"x":{"datum":131425487,"type":"quantitative","scale":{"domain":[131425474,131430194],"nice":false,"zero":false},"axis":null},"x2":{"datum":131425541},"y":{"datum":2.7,"type":"quantitative","scale":{"domain":[0,40],"reverse":true,"nice":false,"zero":false},"axis":null},"y2":{"datum":38.7}}},
 {"data":{"values":[{}]},"mark":{"type":"text","color":"#0c0c78","align":"center","baseline":"middle"},"encoding":{"x":{"datum":131428143,"type":"quantitative","scale":{"domain":[131425474,131430194],"nice":false,"zero":false},"axis":null},"y":{"datum":6,"type":"quantitative","scale":{"domain":[0,40],"reverse":true,"nice":false,"zero":false},"axis":null},"text":{"value":"RefSeq Genes"}}},
 {"data":{"name":"gene"},"transform":[{"filter":"datum.part == 'line'"}],"mark":{"type":"rule","color":"#0c0c78","strokeWidth":1},"encoding":{"x":{"field":"start","type":"quantitative","scale":{"domain":[131425474,131430194],"nice":false,"zero":false},"axis":null},"x2":{"field":"end"},"y":{"datum":27,"type":"quantitative","scale":{"domain":[0,40],"reverse":true,"nice":false,"zero":false},"axis":null}}},
 {"data":{"name":"arrows"},"mark":{"type":"point","shape":"M-0.5,-1L0.5,0L-0.5,1","filled":false,"stroke":"#0c0c78","strokeWidth":1,"size":30,"opacity":1},"encoding":{"x":{"field":"bp","type":"quantitative","scale":{"domain":[131425474,131430194],"nice":false,"zero":false},"axis":null},"y":{"datum":27,"type":"quantitative","scale":{"domain":[0,40],"reverse":true,"nice":false,"zero":false},"axis":null}}},
 {"data":{"name":"gene"},"transform":[{"filter":"datum.part == 'cds'"}],"mark":{"type":"rect","color":"#0c0c78"},"encoding":{"x":{"field":"start","type":"quantitative","scale":{"domain":[131425474,131430194],"nice":false,"zero":false},"axis":null},"x2":{"field":"end"},"y":{"datum":17.5,"type":"quantitative","scale":{"domain":[0,40],"reverse":true,"nice":false,"zero":false},"axis":null},"y2":{"datum":36.5}}},
 {"data":{"name":"gene"},"transform":[{"filter":"datum.part == 'utr'"}],"mark":{"type":"rect","color":"#0c0c78"},"encoding":{"x":{"field":"start","type":"quantitative","scale":{"domain":[131425474,131430194],"nice":false,"zero":false},"axis":null},"x2":{"field":"end"},"y":{"datum":22.5,"type":"quantitative","scale":{"domain":[0,40],"reverse":true,"nice":false,"zero":false},"axis":null},"y2":{"datum":32}}},
 {"data":{"values":[{}]},"mark":{"type":"text","color":"#0c0c78","align":"right","baseline":"middle"},"encoding":{"x":{"datum":131426064,"type":"quantitative","scale":{"domain":[131425474,131430194],"nice":false,"zero":false},"axis":null},"y":{"datum":27,"type":"quantitative","scale":{"domain":[0,40],"reverse":true,"nice":false,"zero":false},"axis":null},"text":{"value":"IL3"}}}
]},
{"width":1913,"height":20,"layer":[
 {"data":{"name":"grid"},"mark":{"type":"rule","color":"#d8d8fc","strokeWidth":1.3},"encoding":{"x":{"field":"bp","type":"quantitative","scale":{"domain":[131425474,131430194],"nice":false,"zero":false},"axis":null}}},
 {"data":{"values":[{}]},"mark":{"type":"rule","color":"#ffb8b8","strokeWidth":1.5},"encoding":{"x":{"datum":131426075,"type":"quantitative","scale":{"domain":[131425474,131430194],"nice":false,"zero":false},"axis":null}}},
 {"data":{"values":[{}]},"mark":{"type":"rule","color":"#1c1cf0","strokeWidth":2.4},"encoding":{"x":{"datum":131425477,"type":"quantitative","scale":{"domain":[131425474,131430194],"nice":false,"zero":false},"axis":null}}},
 {"data":{"values":[{}]},"mark":{"type":"rect","fill":"#c6c6c6","stroke":"#9a9a9a","strokeWidth":1},"encoding":{"x":{"datum":131425487,"type":"quantitative","scale":{"domain":[131425474,131430194],"nice":false,"zero":false},"axis":null},"x2":{"datum":131425541},"y":{"datum":2.7,"type":"quantitative","scale":{"domain":[0,20],"reverse":true,"nice":false,"zero":false},"axis":null},"y2":{"datum":18}}},
 {"data":{"values":[{}]},"mark":{"type":"text","color":"#d0661e","align":"center","baseline":"middle"},"encoding":{"x":{"datum":131428143,"type":"quantitative","scale":{"domain":[131425474,131430194],"nice":false,"zero":false},"axis":null},"y":{"datum":5.5,"type":"quantitative","scale":{"domain":[0,20],"reverse":true,"nice":false,"zero":false},"axis":null},"text":{"value":"C/D and H/ACA Box snoRNAs, scaRNAs, and microRNAs from snoRNABase and miRBase"}}}
]},
{"width":1913,"height":34,"layer":[
 {"data":{"name":"grid"},"mark":{"type":"rule","color":"#d8d8fc","strokeWidth":1.3},"encoding":{"x":{"field":"bp","type":"quantitative","scale":{"domain":[131425474,131430194],"nice":false,"zero":false},"axis":null}}},
 {"data":{"values":[{}]},"mark":{"type":"rule","color":"#ffb8b8","strokeWidth":1.5},"encoding":{"x":{"datum":131426075,"type":"quantitative","scale":{"domain":[131425474,131430194],"nice":false,"zero":false},"axis":null}}},
 {"data":{"values":[{}]},"mark":{"type":"rule","color":"#1c1cf0","strokeWidth":2.4},"encoding":{"x":{"datum":131425477,"type":"quantitative","scale":{"domain":[131425474,131430194],"nice":false,"zero":false},"axis":null}}},
 {"data":{"values":[{}]},"mark":{"type":"rect","fill":"#9bb8e0","stroke":"#7595c4","strokeWidth":1},"encoding":{"x":{"datum":131425487,"type":"quantitative","scale":{"domain":[131425474,131430194],"nice":false,"zero":false},"axis":null},"x2":{"datum":131425541},"y":{"datum":1,"type":"quantitative","scale":{"domain":[0,34],"reverse":true,"nice":false,"zero":false},"axis":null},"y2":{"datum":34}}},
 {"data":{"values":[{}]},"mark":{"type":"text","color":"#8c5a1a","align":"center","baseline":"middle"},"encoding":{"x":{"datum":131428143,"type":"quantitative","scale":{"domain":[131425474,131430194],"nice":false,"zero":false},"axis":null},"y":{"datum":7.5,"type":"quantitative","scale":{"domain":[0,34],"reverse":true,"nice":false,"zero":false},"axis":null},"text":{"value":"Encyclopedia of DNA Elements (ENCODE) Regions"}}},
 {"data":{"name":"encode"},"mark":{"type":"rect","color":"#96621e"},"encoding":{"x":{"field":"start","type":"quantitative","scale":{"domain":[131425474,131430194],"nice":false,"zero":false},"axis":null},"x2":{"field":"end"},"y":{"datum":17,"type":"quantitative","scale":{"domain":[0,34],"reverse":true,"nice":false,"zero":false},"axis":null},"y2":{"datum":34}}},
 {"data":{"values":[{}]},"mark":{"type":"rect","color":"#96621e"},"encoding":{"x":{"datum":131425875,"type":"quantitative","scale":{"domain":[131425474,131430194],"nice":false,"zero":false},"axis":null},"x2":{"datum":131426065},"y":{"datum":17,"type":"quantitative","scale":{"domain":[0,34],"reverse":true,"nice":false,"zero":false},"axis":null},"y2":{"datum":34}}},
 {"data":{"name":"encode"},"mark":{"type":"text","color":"#f6ecd2","align":"center","baseline":"middle","fontSize":17},"encoding":{"x":{"datum":131425970,"type":"quantitative","scale":{"domain":[131425474,131430194],"nice":false,"zero":false},"axis":null},"y":{"datum":25,"type":"quantitative","scale":{"domain":[0,34],"reverse":true,"nice":false,"zero":false},"axis":null},"text":{"field":"name"}}}
]}
]
}
